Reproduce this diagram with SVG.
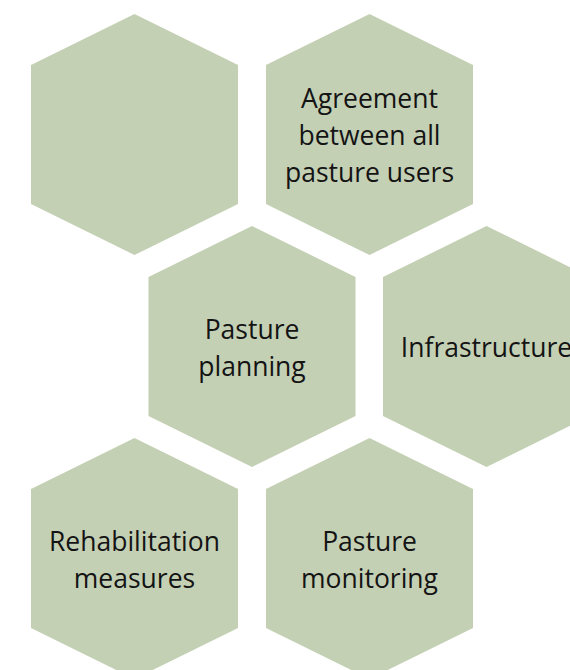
<svg xmlns="http://www.w3.org/2000/svg" width="570" height="670" viewBox="0 0 570 670">
  <style>
    .hex { fill: #c4d0b4; }
    .lbl { font-family: "Open Sans", "Liberation Sans", sans-serif; font-size: 26.5px; fill: #141414; text-anchor: middle; }
  </style>
  <defs>
    <polygon id="hexShape" points="0,-120.5 103.5,-69.5 103.5,69.5 0,120.5 -103.5,69.5 -103.5,-69.5"/>
  </defs>
  <rect width="570" height="670" fill="#ffffff"/>

  <g id="hex-empty" transform="translate(134.5,134.5)">
    <use href="#hexShape" class="hex"/>
  </g>

  <g id="hex-agreement" transform="translate(369.5,134.5)">
    <use href="#hexShape" class="hex"/>
    <text class="lbl" x="0" y="-26.5">Agreement</text>
    <text class="lbl" x="0" y="10.5">between all</text>
    <text class="lbl" x="0" y="47.5">pasture users</text>
  </g>

  <g id="hex-planning" transform="translate(252,346.5)">
    <use href="#hexShape" class="hex"/>
    <text class="lbl" x="0" y="-7.5">Pasture</text>
    <text class="lbl" x="0" y="29">planning</text>
  </g>

  <g id="hex-infrastructure" transform="translate(486.5,346.5)">
    <use href="#hexShape" class="hex"/>
    <text class="lbl" x="0" y="10">Infrastructure</text>
  </g>

  <g id="hex-rehabilitation" transform="translate(134.5,558.5)">
    <use href="#hexShape" class="hex"/>
    <text class="lbl" x="0" y="-7.5">Rehabilitation</text>
    <text class="lbl" x="0" y="29">measures</text>
  </g>

  <g id="hex-monitoring" transform="translate(369.5,558.5)">
    <use href="#hexShape" class="hex"/>
    <text class="lbl" x="0" y="-7.5">Pasture</text>
    <text class="lbl" x="0" y="29">monitoring</text>
  </g>

  <g id="connectors"></g>
</svg>
